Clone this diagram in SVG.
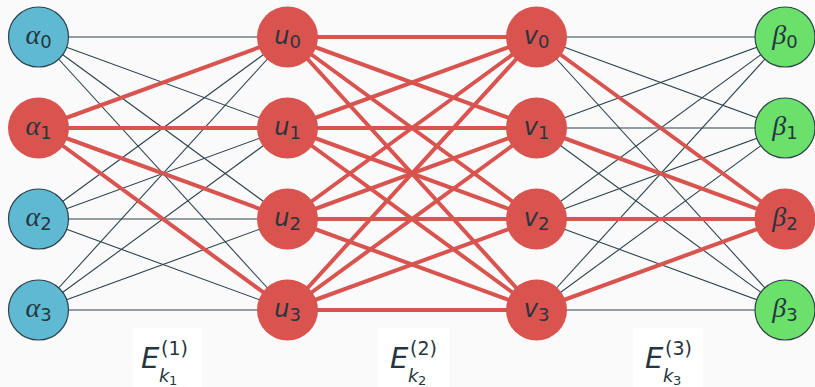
<svg xmlns="http://www.w3.org/2000/svg" width="815" height="387" viewBox="0 0 815 387">
  <style>
    .thin { stroke: #2c424c; stroke-width: 1.1; fill: none; }
    .thick { stroke: #d9534f; stroke-width: 4; fill: none; }
    .blue { fill: #5fb9d2; stroke: #2c424c; stroke-width: 1.2; }
    .red { fill: #d9534f; }
    .green { fill: #6be06b; stroke: #2c424c; stroke-width: 1.2; }
    .lbl { font-family: "DejaVu Sans", "Noto Sans", sans-serif; font-size: 24px; fill: #263640; }
    .greek { font-family: "Liberation Serif", "DejaVu Serif", serif; font-style: italic; font-size: 28px; }
    .var { font-style: oblique; }
    .sub { font-size: 18px; }
    .elbl { font-family: "DejaVu Sans", "Noto Sans", sans-serif; fill: #263640; }
  </style>
  <rect width="815" height="387" fill="#fafafa"/>

  <g id="connectors">
    <!-- alpha layer to u layer: thin -->
    <g class="thin">
      <line x1="38.5" y1="37" x2="287.5" y2="37"/>
      <line x1="38.5" y1="37" x2="287.5" y2="128"/>
      <line x1="38.5" y1="37" x2="287.5" y2="219"/>
      <line x1="38.5" y1="37" x2="287.5" y2="310"/>
      <line x1="38.5" y1="219" x2="287.5" y2="37"/>
      <line x1="38.5" y1="219" x2="287.5" y2="128"/>
      <line x1="38.5" y1="219" x2="287.5" y2="219"/>
      <line x1="38.5" y1="219" x2="287.5" y2="310"/>
      <line x1="38.5" y1="310" x2="287.5" y2="37"/>
      <line x1="38.5" y1="310" x2="287.5" y2="128"/>
      <line x1="38.5" y1="310" x2="287.5" y2="219"/>
      <line x1="38.5" y1="310" x2="287.5" y2="310"/>
      <!-- v layer to beta layer: thin -->
      <line x1="536.5" y1="37" x2="785" y2="37"/>
      <line x1="536.5" y1="128" x2="785" y2="37"/>
      <line x1="536.5" y1="219" x2="785" y2="37"/>
      <line x1="536.5" y1="310" x2="785" y2="37"/>
      <line x1="536.5" y1="37" x2="785" y2="128"/>
      <line x1="536.5" y1="128" x2="785" y2="128"/>
      <line x1="536.5" y1="219" x2="785" y2="128"/>
      <line x1="536.5" y1="310" x2="785" y2="128"/>
      <line x1="536.5" y1="37" x2="785" y2="310"/>
      <line x1="536.5" y1="128" x2="785" y2="310"/>
      <line x1="536.5" y1="219" x2="785" y2="310"/>
      <line x1="536.5" y1="310" x2="785" y2="310"/>
    </g>
    <!-- selected path set: thick -->
    <g class="thick">
      <line x1="38.5" y1="128" x2="287.5" y2="37"/>
      <line x1="38.5" y1="128" x2="287.5" y2="128"/>
      <line x1="38.5" y1="128" x2="287.5" y2="219"/>
      <line x1="38.5" y1="128" x2="287.5" y2="310"/>
      <line x1="287.5" y1="37" x2="536.5" y2="37"/>
      <line x1="287.5" y1="37" x2="536.5" y2="128"/>
      <line x1="287.5" y1="37" x2="536.5" y2="219"/>
      <line x1="287.5" y1="37" x2="536.5" y2="310"/>
      <line x1="287.5" y1="128" x2="536.5" y2="37"/>
      <line x1="287.5" y1="128" x2="536.5" y2="128"/>
      <line x1="287.5" y1="128" x2="536.5" y2="219"/>
      <line x1="287.5" y1="128" x2="536.5" y2="310"/>
      <line x1="287.5" y1="219" x2="536.5" y2="37"/>
      <line x1="287.5" y1="219" x2="536.5" y2="128"/>
      <line x1="287.5" y1="219" x2="536.5" y2="219"/>
      <line x1="287.5" y1="219" x2="536.5" y2="310"/>
      <line x1="287.5" y1="310" x2="536.5" y2="37"/>
      <line x1="287.5" y1="310" x2="536.5" y2="128"/>
      <line x1="287.5" y1="310" x2="536.5" y2="219"/>
      <line x1="287.5" y1="310" x2="536.5" y2="310"/>
      <line x1="536.5" y1="37" x2="785" y2="219"/>
      <line x1="536.5" y1="128" x2="785" y2="219"/>
      <line x1="536.5" y1="219" x2="785" y2="219"/>
      <line x1="536.5" y1="310" x2="785" y2="219"/>
    </g>
  </g>

  <!-- alpha column -->
  <g id="alpha0"><circle class="blue" cx="38.5" cy="37" r="30"/><text class="lbl" x="38.5" y="44" text-anchor="middle"><tspan class="greek">α</tspan><tspan class="sub" dy="4">0</tspan></text></g>
  <g id="alpha1"><circle class="red" cx="38.5" cy="128" r="30.5"/><text class="lbl" x="38.5" y="135" text-anchor="middle"><tspan class="greek">α</tspan><tspan class="sub" dy="4">1</tspan></text></g>
  <g id="alpha2"><circle class="blue" cx="38.5" cy="219" r="30"/><text class="lbl" x="38.5" y="226" text-anchor="middle"><tspan class="greek">α</tspan><tspan class="sub" dy="4">2</tspan></text></g>
  <g id="alpha3"><circle class="blue" cx="38.5" cy="310" r="30"/><text class="lbl" x="38.5" y="317" text-anchor="middle"><tspan class="greek">α</tspan><tspan class="sub" dy="4">3</tspan></text></g>

  <!-- u column -->
  <g id="u0"><circle class="red" cx="287.5" cy="37" r="30.5"/><text class="lbl" x="287.5" y="44" text-anchor="middle"><tspan class="var">u</tspan><tspan class="sub" dy="4">0</tspan></text></g>
  <g id="u1"><circle class="red" cx="287.5" cy="128" r="30.5"/><text class="lbl" x="287.5" y="135" text-anchor="middle"><tspan class="var">u</tspan><tspan class="sub" dy="4">1</tspan></text></g>
  <g id="u2"><circle class="red" cx="287.5" cy="219" r="30.5"/><text class="lbl" x="287.5" y="226" text-anchor="middle"><tspan class="var">u</tspan><tspan class="sub" dy="4">2</tspan></text></g>
  <g id="u3"><circle class="red" cx="287.5" cy="310" r="30.5"/><text class="lbl" x="287.5" y="317" text-anchor="middle"><tspan class="var">u</tspan><tspan class="sub" dy="4">3</tspan></text></g>

  <!-- v column -->
  <g id="v0"><circle class="red" cx="536.5" cy="37" r="30.5"/><text class="lbl" x="536.5" y="44" text-anchor="middle"><tspan class="var">v</tspan><tspan class="sub" dy="4">0</tspan></text></g>
  <g id="v1"><circle class="red" cx="536.5" cy="128" r="30.5"/><text class="lbl" x="536.5" y="135" text-anchor="middle"><tspan class="var">v</tspan><tspan class="sub" dy="4">1</tspan></text></g>
  <g id="v2"><circle class="red" cx="536.5" cy="219" r="30.5"/><text class="lbl" x="536.5" y="226" text-anchor="middle"><tspan class="var">v</tspan><tspan class="sub" dy="4">2</tspan></text></g>
  <g id="v3"><circle class="red" cx="536.5" cy="310" r="30.5"/><text class="lbl" x="536.5" y="317" text-anchor="middle"><tspan class="var">v</tspan><tspan class="sub" dy="4">3</tspan></text></g>

  <!-- beta column -->
  <g id="beta0"><circle class="green" cx="785" cy="37" r="30"/><text class="lbl" x="785" y="44" text-anchor="middle"><tspan class="greek">β</tspan><tspan class="sub" dy="4">0</tspan></text></g>
  <g id="beta1"><circle class="green" cx="785" cy="128" r="30"/><text class="lbl" x="785" y="135" text-anchor="middle"><tspan class="greek">β</tspan><tspan class="sub" dy="4">1</tspan></text></g>
  <g id="beta2"><circle class="red" cx="785" cy="219" r="30.5"/><text class="lbl" x="785" y="226" text-anchor="middle"><tspan class="greek">β</tspan><tspan class="sub" dy="4">2</tspan></text></g>
  <g id="beta3"><circle class="green" cx="785" cy="310" r="30"/><text class="lbl" x="785" y="317" text-anchor="middle"><tspan class="greek">β</tspan><tspan class="sub" dy="4">3</tspan></text></g>

  <!-- edge set labels -->
  <g id="E1">
    <rect x="133" y="328" width="69" height="59" fill="#ffffff"/>
    <text class="elbl" font-size="29" font-style="oblique" x="141" y="368">E</text>
    <text class="elbl" font-size="19" x="161" y="355">(1)</text>
    <text class="elbl" font-size="18" font-style="oblique" x="159" y="382">k</text>
    <text class="elbl" font-size="13" x="169" y="385">1</text>
  </g>
  <g id="E2">
    <rect x="378" y="328" width="71" height="59" fill="#ffffff"/>
    <text class="elbl" font-size="29" font-style="oblique" x="390" y="368">E</text>
    <text class="elbl" font-size="19" x="410" y="355">(2)</text>
    <text class="elbl" font-size="18" font-style="oblique" x="408" y="382">k</text>
    <text class="elbl" font-size="13" x="418" y="385">2</text>
  </g>
  <g id="E3">
    <rect x="633" y="328" width="70" height="59" fill="#ffffff"/>
    <text class="elbl" font-size="29" font-style="oblique" x="645" y="368">E</text>
    <text class="elbl" font-size="19" x="665" y="355">(3)</text>
    <text class="elbl" font-size="18" font-style="oblique" x="663" y="382">k</text>
    <text class="elbl" font-size="13" x="673" y="385">3</text>
  </g>
</svg>
